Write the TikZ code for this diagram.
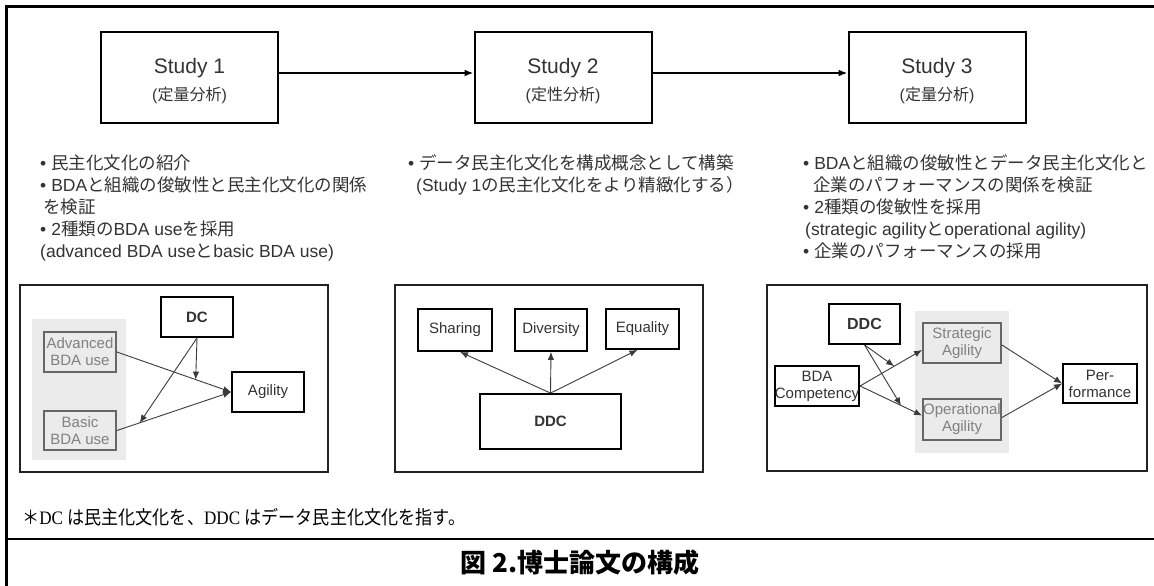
\documentclass[tikz,border=0pt]{standalone}
\usepackage{fontspec}
\setmainfont{Liberation Sans}
\newfontfamily\jp{Noto Sans CJK JP}
\newfontfamily\jpn[FakeStretch=0.9]{Noto Sans CJK JP}
\newfontfamily\lserif[FakeStretch=0.9]{Liberation Serif}
\usetikzlibrary{arrows.meta,calc}
\definecolor{tc}{HTML}{333333}
\definecolor{gt}{HTML}{808080}
\definecolor{gb}{HTML}{666666}
\definecolor{bgg}{HTML}{EBEBEB}
\definecolor{ac}{HTML}{3A3A3A}
\definecolor{fr}{HTML}{222222}
\newcommand{\J}[1]{{\jp #1}}
\newcommand{\JN}[1]{{\jpn #1}}
\begin{document}
\begin{tikzpicture}[x=1pt,y=-1pt,
  studybox/.style={draw=black, line width=2pt, minimum width=177pt, minimum height=91pt, inner sep=0pt},
  stitle/.style={inner sep=0pt, text=tc, font=\fontsize{21}{24}\selectfont},
  ssub/.style={inner sep=0pt, text=tc, font=\fontsize{16}{18}\selectfont},
  panel/.style={draw=fr, line width=1.6pt, inner sep=0pt},
  bbox/.style={draw=black, line width=1.8pt, fill=white, text=tc, align=center, inner sep=0pt, font=\fontsize{15}{17}\selectfont},
  gbox/.style={draw=gb, line width=1.8pt, text=gt, align=center, inner sep=0pt, font=\fontsize{15}{17}\selectfont},
  bgrect/.style={fill=bgg, draw=none, inner sep=0pt},
  bul/.style={anchor=base west, inner sep=0pt, text=tc, font=\fontsize{17.5}{20}\selectfont},
  arr/.style={draw=ac, line width=0.9pt, -{Latex[length=8pt,width=6.5pt]}},
  bigarr/.style={draw=black, line width=2pt, -{Latex[length=9pt,width=7pt]}}
]
\useasboundingbox (0,0) rectangle (1154,586);
% outer frame lines
\coordinate (tl) at (6.5,6.5);
\coordinate (tr) at (1154,6.5);
\coordinate (bl) at (6.5,586);
\coordinate (ml) at (6.5,539);
\coordinate (mr) at (1154,539);
\draw[line width=2.2pt] (tr) -- (tl) -- (bl);
\draw[line width=2.2pt] (ml) -- (mr);

% study boxes
\node[studybox] (s1) at (189.5,77.5) {};
\node[studybox] (s2) at (563,77.5) {};
\node[studybox] (s3) at (937,77.5) {};
\node[stitle] (s1a) at (189.5,68) {Study 1};
\node[ssub] (s1b) at (189.5,95) {(\J{定量分析})};
\node[stitle] (s2a) at (563,68) {Study 2};
\node[ssub] (s2b) at (563,95) {(\J{定性分析})};
\node[stitle] (s3a) at (937,68) {Study 3};
\node[ssub] (s3b) at (937,95) {(\J{定量分析})};
\draw[bigarr] ([yshift=4.5pt]s1.east) -- ([yshift=4.5pt]s2.west);
\draw[bigarr] ([yshift=4.5pt]s2.east) -- ([yshift=4.5pt]s3.west);

% bullets study 1
\node[bul] (b11) at (40,169) {\textbullet\hspace{5pt}\J{民主化文化の紹介}};
\node[bul] (b12) at (40,191) {\textbullet\hspace{5pt}BDA\J{と組織の俊敏性と民主化文化の関係}};
\node[bul] (b13) at (43,213) {\J{を検証}};
\node[bul] (b14) at (40,235) {\textbullet\hspace{5pt}2\J{種類の}BDA use\J{を採用}};
\node[bul] (b15) at (40,257) {(advanced BDA use\J{と}basic BDA use)};
% bullets study 2
\node[bul] (b21) at (408,169) {\textbullet\hspace{5pt}\J{データ民主化文化を構成概念として構築}};
\node[bul] (b22) at (416,191) {(Study 1\J{の民主化文化をより精緻化する）}};
% bullets study 3
\node[bul] (b31) at (803,169) {\textbullet\hspace{5pt}BDA\J{と組織の俊敏性とデータ民主化文化と}};
\node[bul] (b32) at (813,191) {\J{企業のパフォーマンスの関係を検証}};
\node[bul] (b33) at (803,213) {\textbullet\hspace{5pt}2\J{種類の俊敏性を採用}};
\node[bul] (b34) at (805,235) {(strategic agility\J{と}operational agility)};
\node[bul] (b35) at (803,257) {\textbullet\hspace{5pt}\J{企業のパフォーマンスの採用}};

% panels
\node[panel, minimum width=308pt, minimum height=187pt] (p1) at (174,378.5) {};
\node[panel, minimum width=308pt, minimum height=187pt] (p2) at (549,378.5) {};
\node[panel, minimum width=380pt, minimum height=186pt] (p3) at (957,378) {};

% panel 1
\node[bgrect, minimum width=94pt, minimum height=141pt] (bg1) at (79,389.5) {};
\node[gbox, minimum width=72pt, minimum height=40pt] (adv) at (80,352) {Advanced\\BDA use};
\node[gbox, minimum width=72pt, minimum height=39pt] (bas) at (80,430.5) {Basic\\BDA use};
\node[bbox, minimum width=72pt, minimum height=40pt, font=\fontsize{15}{17}\selectfont\bfseries] (dc) at (197,317) {DC};
\node[bbox, minimum width=72pt, minimum height=40pt] (agi) at (268,392) {Agility};
\draw[arr] (adv.east) -- (agi.west);
\draw[arr] (bas.east) -- (agi.west);
\coordinate (m1) at ($(adv.east)!0.69!(agi.west)$);
\coordinate (m2) at ($(bas.east)!0.2!(agi.west)$);
\draw[arr] (dc.south) -- (m1);
\draw[arr] (dc.south) -- (m2);

% panel 2
\node[bbox, minimum width=74pt, minimum height=42pt] (sha) at (455,330) {Sharing};
\node[bbox, minimum width=72pt, minimum height=42pt] (div) at (551,330) {Diversity};
\node[bbox, minimum width=73pt, minimum height=40pt] (equ) at (642.5,329) {Equality};
\node[bbox, minimum width=141pt, minimum height=55pt, font=\fontsize{15}{17}\selectfont\bfseries] (ddc) at (550.5,421.5) {DDC};
\draw[arr] (ddc.north) -- ([xshift=5pt]sha.south);
\draw[arr] (ddc.north) -- (div.south);
\draw[arr] (ddc.north) -- ([xshift=-5pt]equ.south);

% panel 3
\node[bgrect, minimum width=94pt, minimum height=142pt] (bg3) at (962,382) {};
\node[bbox, minimum width=71pt, minimum height=40pt, font=\fontsize{16}{18}\selectfont\bfseries] (ddc3) at (864.5,324) {DDC};
\node[bbox, minimum width=80pt, minimum height=40pt] (bdac) at (817,386) {BDA\\Competency};
\node[gbox, minimum width=78pt, minimum height=40pt] (str) at (962,343) {Strategic\\Agility};
\node[gbox, minimum width=78pt, minimum height=41pt] (ope) at (962,419.5) {Operational\\Agility};
\node[bbox, minimum width=74pt, minimum height=39pt] (per) at (1100,383.5) {Per-\\formance};
\coordinate (strin) at ([yshift=-7pt]str.west);
\coordinate (opein) at ([yshift=4pt]ope.west);
\draw[arr] (bdac.east) -- (strin);
\draw[arr] (bdac.east) -- (opein);
\coordinate (m3) at ($(bdac.east)!0.55!(strin)$);
\coordinate (m4) at ($(bdac.east)!0.66!(opein)$);
\draw[arr] (ddc3.south) -- (m3);
\draw[arr] (ddc3.south) -- (m4);
\draw[arr] ([yshift=-2pt]str.east) -- (per.west);
\draw[arr] ([yshift=2pt]ope.east) -- (per.west);

% footnote and caption
\node[anchor=base west, inner sep=0pt, font=\fontsize{19}{21}\selectfont] (note) at (22,524)
  {\JN{＊}\lserif DC \JN{は民主化文化を、}DDC \JN{はデータ民主化文化を指す。}};
\node[inner sep=0pt, font=\fontsize{26}{28}\selectfont] (cap) at (580,563)
  {\jp\bfseries 図 2.博士論文の構成};
\end{tikzpicture}
\end{document}
